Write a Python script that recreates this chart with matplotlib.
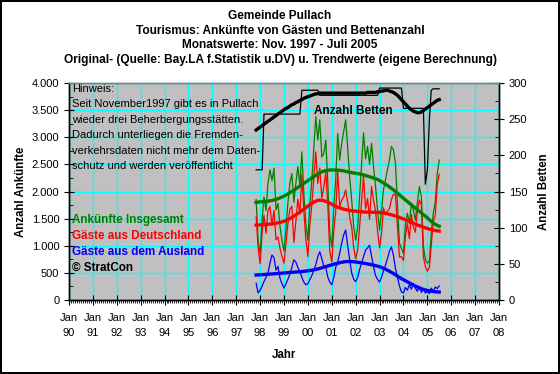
import pandas as pd
import matplotlib
matplotlib.use('Agg')
import matplotlib.pyplot as plt
import matplotlib.dates as mdates
from matplotlib.ticker import MultipleLocator, FuncFormatter

plt.rcParams['font.family'] = ['Liberation Sans', 'DejaVu Sans']

# monthly values Nov 1997 - Jul 2005
months = pd.date_range('1997-11-01', '2005-07-01', freq='MS')

# Ankuenfte insgesamt (gruen)
total = [1850, 1100,
         850, 1500, 1900, 1650, 2150, 2400, 2200, 2430, 1660, 1780, 1350, 1100,
         900, 1350, 1780, 2150, 2330, 1800, 2150, 2460, 2100, 2730, 1950, 1400,
         1100, 1780, 2200, 2800, 3380, 2950, 3320, 2640, 2700, 2950, 2150, 1230,
         980, 1720, 2210, 3070, 2580, 2890, 3100, 3320, 2800, 2270, 1840, 1350,
         1100, 1350, 1900, 2500, 3080, 2600, 2830, 2500, 2890, 2450, 2090, 1660,
         1290, 1660, 2030, 2210, 2400, 2580, 2830, 2770, 2520, 1780, 1050, 950,
         860, 1400, 1600, 1410, 1780, 1650, 1470, 1800, 2090, 1900, 1000, 750,
         680, 720, 1230, 1600, 1800, 2330, 2580]

# Gaeste aus Deutschland (rot)
de = [1540, 970,
      670, 1240, 1560, 1230, 1650, 1720, 1370, 1650, 1110, 1160, 950, 800,
      680, 1050, 1400, 1670, 1730, 1060, 1450, 1860, 1580, 2310, 1620, 1120,
      800, 1400, 1750, 2250, 2730, 2150, 2430, 1880, 2080, 2350, 1730, 900,
      700, 1300, 1610, 2370, 1720, 1840, 1900, 2030, 1800, 1530, 1340, 970,
      760, 930, 1340, 1820, 2280, 1680, 1870, 1490, 2090, 1840, 1640, 1280,
      960, 1240, 1700, 1570, 1640, 1680, 1850, 1950, 1940, 1360, 790, 800,
      730, 1170, 1420, 1130, 1580, 1350, 1250, 1640, 1840, 1760, 800, 620,
      530, 600, 1010, 1440, 1560, 2120, 2320]

# Gaeste aus dem Ausland (blau)
ausland = [310, 130,
           180, 260, 340, 420, 500, 680, 830, 780, 550, 620, 400, 300,
           220, 300, 380, 480, 600, 740, 700, 600, 520, 420, 330, 280,
           300, 380, 450, 550, 650, 800, 890, 760, 620, 600, 420, 330,
           280, 420, 600, 700, 860, 1050, 1200, 1290, 1000, 740, 500, 380,
           340, 420, 560, 680, 800, 920, 960, 1010, 800, 610, 450, 380,
           330, 420, 540, 640, 760, 900, 980, 820, 580, 420, 260, 150,
           130, 230, 180, 280, 200, 300, 220, 160, 250, 140, 200, 130,
           150, 120, 220, 160, 240, 210, 260]

# Trendwerte
total_trend = [1800, 1805,
               1810, 1812, 1815, 1818, 1822, 1828, 1835, 1845, 1855, 1868, 1882, 1898,
               1915, 1935, 1955, 1978, 2000, 2025, 2050, 2075, 2100, 2125, 2150, 2175,
               2200, 2225, 2250, 2275, 2300, 2325, 2345, 2362, 2375, 2385, 2392, 2396,
               2398, 2398, 2396, 2393, 2390, 2386, 2380, 2372, 2363, 2355, 2348, 2342,
               2336, 2330, 2323, 2315, 2305, 2295, 2283, 2272, 2260, 2248, 2235, 2222,
               2200, 2180, 2158, 2135, 2110, 2085, 2058, 2030, 2000, 1970, 1940, 1905,
               1875, 1845, 1815, 1785, 1755, 1725, 1695, 1665, 1635, 1605, 1575, 1545,
               1512, 1480, 1450, 1420, 1395, 1375, 1360]

de_trend = [1380, 1382,
            1385, 1388, 1390, 1393, 1396, 1400, 1405, 1410, 1416, 1422, 1430, 1440,
            1452, 1466, 1482, 1500, 1520, 1545, 1570, 1595, 1620, 1648, 1676, 1704,
            1730, 1758, 1782, 1805, 1822, 1835, 1840, 1838, 1830, 1818, 1802, 1785,
            1765, 1745, 1728, 1712, 1698, 1686, 1675, 1666, 1658, 1651, 1645, 1640,
            1636, 1632, 1629, 1626, 1624, 1622, 1620, 1619, 1618, 1617, 1616, 1615,
            1614, 1610, 1605, 1598, 1590, 1580, 1570, 1560, 1548, 1536, 1522, 1508,
            1495, 1480, 1465, 1450, 1433, 1416, 1400, 1385, 1370, 1356, 1342, 1330,
            1318, 1307, 1297, 1289, 1282, 1276, 1270]

ausland_trend = [460, 462,
                 465, 468, 470, 472, 475, 478, 480, 483, 486, 489, 492, 495,
                 498, 501, 504, 507, 510, 513, 516, 519, 522, 525, 529, 533,
                 538, 543, 549, 556, 564, 573, 583, 594, 605, 616, 627, 638,
                 648, 658, 668, 678, 687, 695, 702, 707, 710, 710, 708, 705,
                 700, 695, 690, 684, 678, 672, 665, 658, 650, 642, 633, 624,
                 614, 600, 585, 568, 550, 530, 510, 488, 465, 440, 415, 395,
                 375, 355, 335, 315, 295, 276, 258, 240, 222, 208, 196, 186,
                 177, 170, 163, 157, 152, 149, 147]

# Anzahl Betten (rechte Achse)
betten = [180, 180,
          180, 180, 257, 257, 257, 257, 257, 257, 257, 257, 257, 257,
          257, 257, 257, 257, 257, 257, 257, 257, 257, 290, 290, 290,
          290, 290, 290, 290, 290, 290, 283, 283, 283, 283, 283, 283,
          283, 283, 283, 283, 283, 283, 283, 283, 283, 283, 283, 283,
          283, 283, 283, 283, 283, 283, 283, 283, 283, 283, 283, 283,
          293, 293, 293, 293, 293, 293, 293, 293, 293, 293, 293, 293,
          265, 265, 265, 265, 265, 265, 265, 265, 265, 265, 265, 160,
          180, 250, 290, 292, 292, 292, 292]

betten_trend = [235, 237,
                239, 241, 243, 245, 247, 249, 251, 253, 255, 257, 259, 261,
                263, 265, 266, 268, 270, 271, 273, 274, 276, 277, 279, 280,
                281, 282, 283, 284, 285, 285, 286, 286, 286, 286, 286, 286,
                286, 286, 286, 286, 286, 286, 286, 286, 286, 286, 286, 286,
                286, 286, 286, 286, 286, 286, 287, 287, 287, 287, 287, 288,
                288, 289, 289, 290, 290, 289, 288, 287, 285, 283, 280, 277,
                274, 271, 268, 265, 263, 261, 260, 259, 259, 260, 262, 264,
                266, 268, 270, 272, 274, 276, 277]

titles = ['Gemeinde Pullach',
          'Tourismus: Ankünfte von Gästen und Bettenanzahl',
          'Monatswerte: Nov. 1997 - Juli 2005',
          'Original- (Quelle: Bay.LA f.Statistik u.DV) u. Trendwerte (eigene Berechnung)']

hinweis = ('Hinweis:\n'
           'Seit November1997 gibt es in Pullach\n'
           'wieder drei Beherbergungsstätten.\n'
           'Dadurch unterliegen die Fremden-\n'
           'verkehrsdaten nicht mehr dem Daten-\n'
           'schutz und werden veröffentlicht')

GREEN = '#008000'
RED = '#ff0000'
BLUE = '#0000ff'
CYAN = '#00ffff'

fig = plt.figure(figsize=(5.6, 3.74), dpi=100, facecolor='white',
                 edgecolor='black', linewidth=1.5)
ax = fig.add_axes([69 / 560, 1 - 300 / 374, 430 / 560, 217 / 374])
ax.set_facecolor('#c0c0c0')
ax2 = ax.twinx()

# Gitter
ax.set_xlim(pd.Timestamp('1990-01-01'), pd.Timestamp('2008-01-01'))
ax.set_ylim(0, 4000)
ax2.set_ylim(0, 300)
ax.xaxis.set_major_locator(mdates.YearLocator())
ax.xaxis.set_minor_locator(mdates.MonthLocator())
ax.xaxis.set_major_formatter(mdates.DateFormatter('%b\n%y'))
ax.yaxis.set_major_locator(MultipleLocator(500))
ax.yaxis.set_minor_locator(MultipleLocator(250))
ax.yaxis.set_major_formatter(FuncFormatter(lambda v, p: f'{int(v):,}'.replace(',', '.')))
ax2.yaxis.set_major_locator(MultipleLocator(50))
ax2.yaxis.set_minor_locator(MultipleLocator(25))
ax.grid(True, which='major', color=CYAN, lw=1.0)
ax.set_axisbelow(True)

# Original und Trend
ax.plot(months, total, color=GREEN, lw=0.9)
ax.plot(months, de, color=RED, lw=0.9)
ax.plot(months, ausland, color=BLUE, lw=0.9)
ax.plot(months, total_trend, color=GREEN, lw=2.4)
ax.plot(months, de_trend, color=RED, lw=2.4)
ax.plot(months, ausland_trend, color=BLUE, lw=2.4)
ax2.plot(months, betten, color='black', lw=0.9)
ax2.plot(months, betten_trend, color='black', lw=2.4)

for a in (ax, ax2):
    for s in a.spines.values():
        s.set_color('black')
        s.set_linewidth(1)
    a.spines['top'].set_color('#808080')
ax.tick_params(axis='x', which='major', direction='inout', length=7, labelsize=8, pad=6)
ax.tick_params(axis='x', which='minor', direction='out', length=2)
ax.tick_params(axis='y', which='major', direction='inout', length=7, labelsize=8)
ax.tick_params(axis='y', which='minor', direction='in', length=3)
ax2.tick_params(axis='y', which='major', direction='inout', length=7, labelsize=8)
ax2.tick_params(axis='y', which='minor', direction='in', length=3)
for lab in ax.get_xticklabels():
    lab.set_linespacing(1.6)

ax.set_xlabel('Jahr', fontsize=8.3, fontweight='bold', labelpad=8)
ax.set_ylabel('Anzahl Ankünfte', fontsize=8.3, fontweight='bold', labelpad=3)
ax2.set_ylabel('Anzahl Betten', fontsize=8.3, fontweight='bold', labelpad=8)

for i, t in enumerate(titles):
    fig.text(0.5, 1 - (16 + 14.6 * i) / 374, t, ha='center', va='center',
             fontsize=8.6, fontweight='bold')

fig.text(72 / 560, 1 - 84 / 374, hinweis, ha='left', va='top', fontsize=8,
         linespacing=1.68)
fig.text(353 / 560, 1 - 111 / 374, 'Anzahl Betten', ha='center', va='center',
         fontsize=8.5, fontweight='bold')

legend_texts = [('Ankünfte Insgesamt', GREEN), ('Gäste aus Deutschland', RED),
                ('Gäste aus dem Ausland', BLUE), ('© StratCon', 'black')]
for i, (t, c) in enumerate(legend_texts):
    fig.text(72 / 560, 1 - (220.5 + 15.6 * i) / 374, t, ha='left', va='center',
             fontsize=8.4, fontweight='bold', color=c)

fig.savefig('out.png', dpi=100, facecolor='white', edgecolor='black')
